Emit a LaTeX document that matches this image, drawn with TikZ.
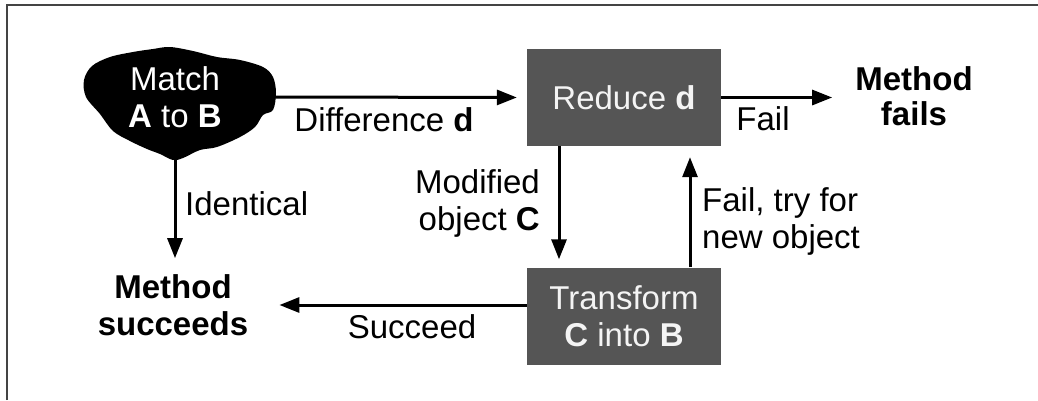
\documentclass[tikz,border=0pt]{standalone}
\usepackage{fontspec}
\setmainfont{Liberation Sans}
\usetikzlibrary{arrows.meta}
\definecolor{boxgray}{HTML}{555555}
\definecolor{framegray}{HTML}{444444}
\definecolor{boxtext}{HTML}{F4F4F4}
\tikzset{
  conn/.style={line width=3pt, -{Triangle[length=20pt,width=15pt]}},
  stepbox/.style={fill=boxgray, draw=none, minimum width=194pt, minimum height=97pt, inner sep=0pt, text=boxtext, align=center},
  plain/.style={inner sep=0pt, align=center},
  lbl/.style={inner sep=0pt},
}
\begin{document}
\begin{tikzpicture}[x=1pt,y=-1pt,font=\fontsize{33}{37}\selectfont]
\useasboundingbox (0,0) rectangle (1038,400);
\draw[framegray, line width=1.5pt] (7,400) -- (7,5) -- (1038,5);
% blob
\fill[black] plot[smooth cycle, tension=0.55] coordinates {
 (170,47) (193,51) (217,57) (240,60) (263,67) (273,77) (276,93) (273,110)
 (263,115) (255,127) (240,137) (217,147) (200,150) (183,158) (173,160)
 (160,154) (147,149) (130,141) (113,131) (100,114) (86,97) (84,80)
 (92,66) (110,57) (133,52) (153,49)};
\node[plain, text=white, minimum width=200pt, minimum height=126pt] (match) at (175,97) {Match\\\textbf{A} to \textbf{B}};
\node[stepbox] (reduce) at (624,97.5) {Reduce \textbf{d}};
\node[stepbox] (transform) at (624,316) {Transform\\\textbf{C} into \textbf{B}};
\node[plain, font=\fontsize{33}{35}\selectfont\bfseries] (fails) at (914,96) {Method\\fails};
\node[plain, font=\fontsize{33}{37}\selectfont\bfseries] (succ) at (173,305) {Method\\succeeds};
% connectors
\draw[conn, shorten >=10pt] (match.east) -- (reduce.west);
\draw[conn, shorten >=16pt] (match.south) -- (match.south |- succ.north);
\draw[conn, shorten >=8pt] ([xshift=-65pt]reduce.south) -- ([xshift=-65pt]transform.north);
\draw[conn, shorten >=11pt] ([xshift=66pt]transform.north) -- ([xshift=66pt]reduce.south);
\draw[conn, shorten >=23pt] (reduce.east) -- (reduce.east -| fails.west);
\draw[conn, shorten >=31pt] (succ.east -| transform.west) -- (succ.east);
% labels
\node[lbl, anchor=base] (ldiff) at (384,131) {Difference \textbf{d}};
\node[lbl, anchor=base] (lfail) at (763,130) {Fail};
\node[lbl, anchor=base west] (lident) at (185,215) {Identical};
\node[lbl, anchor=base] (lsucc) at (412,338) {Succeed};
\node[lbl, anchor=east, align=right] (lmod) at (540,203.5) {Modified\\object \textbf{C}};
\node[lbl, anchor=west, align=left] (lfailtry) at (702,221) {Fail, try for\\new object};
\end{tikzpicture}
\end{document}
